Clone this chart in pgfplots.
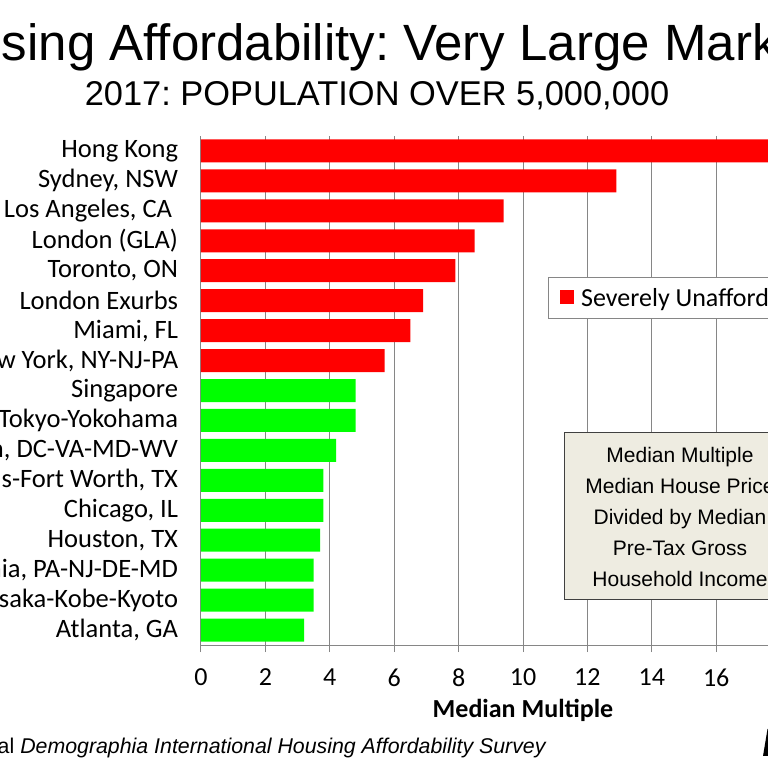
\documentclass[border=0pt]{standalone}
\usepackage{fontspec}
\setmainfont{Carlito}
\newfontfamily\arialf{Liberation Sans}
\usepackage{pgfplots}
\pgfplotsset{compat=1.18}
\definecolor{gridgray}{RGB}{134,134,134}
\definecolor{barred}{RGB}{255,0,0}
\definecolor{bargreen}{RGB}{0,255,0}
\definecolor{notebg}{RGB}{238,236,225}
% pixel helpers: 1px = 0.75pt, y measured from the top edge
\newcommand{\px}[2]{({#1*0.75pt},{(768-#2)*0.75pt})}
\frenchspacing

\begin{document}
\begin{tikzpicture}
\useasboundingbox (0,0) rectangle (576pt,576pt);
\clip (0,0) rectangle (576pt,576pt);

% titles
\node[anchor=base, inner sep=0pt, font=\arialf\fontsize{38.25}{45}\selectfont] at \px{377}{61}
  {Housing Affordability: Very Large Markets};
\node[anchor=base, inner sep=0pt, font=\arialf\fontsize{25.8}{31}\selectfont] at \px{377}{106}
  {2017: POPULATION OVER 5,000,000};

% axis box: left edge at 201px, bottom at 645px
\begin{axis}[
  scale only axis, width=483pt, height=381.75pt,
  at={(150.75pt,92.25pt)}, anchor=south west,
  xbar, bar width=17.25pt,
  xmin=0, xmax=20, ymin=-0.5, ymax=16.5, y dir=reverse,
  xtick={0,2,...,20},
  ytick={0,...,16},
  yticklabels={Hong Kong, {Sydney, NSW}, {Los Angeles, CA\kern4.5pt}, London (GLA), {Toronto, ON},
    London Exurbs, {Miami, FL}, {New York, NY-NJ-PA}, Singapore, Tokyo-Yokohama,
    {Washington, DC-VA-MD-WV}, {Dallas-Fort Worth, TX}, {Chicago, IL}, {Houston, TX},
    {Philadelphia, PA-NJ-DE-MD}, Osaka-Kobe-Kyoto, {Atlanta, GA}},
  axis x line*=bottom, axis y line*=left,
  axis line style={draw=gridgray, line width=0.75pt},
  xmajorgrids, grid style={draw=gridgray, line width=0.75pt},
  tick align=outside,
  xtick style={draw=gridgray, line width=0.75pt},
  x tick style={/pgfplots/major tick length=5.25pt},
  y tick style={/pgfplots/major tick length=0pt},
  /pgf/number format/assume math mode=true,
  xticklabel style={font=\fontsize{19.5}{23}\selectfont, anchor=north, inner sep=0pt, yshift=-13.5pt},
  yticklabel style={font=\fontsize{19.9}{23}\selectfont, anchor=east, inner sep=0pt, xshift=-12.75pt},
  xlabel={Median Multiple},
  xlabel style={at={(axis description cs:0.5,0)}, anchor=base, inner sep=0pt, yshift=-54pt,
    font=\fontsize{19.5}{23}\selectfont\bfseries},
  legend style={at={(0.5388,0.723)}, anchor=north west, draw=gridgray, line width=0.75pt,
    font=\fontsize{19.5}{23}\selectfont, inner xsep=0pt, inner ysep=6pt},
  legend image code/.code={
    \path (0pt,0pt) (22.5pt,0pt);
    \fill[barred] (9pt,-4pt) rectangle (19.5pt,6.5pt);},
]
\addplot[fill=barred, draw=none, bar shift=0pt] coordinates {
  (19.4,0) (12.9,1) (9.4,2) (8.5,3) (7.9,4) (6.9,5) (6.5,6) (5.7,7)};
\addlegendentry{Severely Unaffordable}
\addplot[fill=bargreen, draw=none, bar shift=0pt, forget plot] coordinates {
  (4.8,8) (4.8,9) (4.2,10) (3.8,11) (3.8,12) (3.7,13) (3.5,14) (3.5,15) (3.2,16)};
\end{axis}

% explanatory note
\draw[draw=black!75, fill=notebg, line width=0.75pt] \px{564}{433} rectangle \px{796}{600};
\begin{scope}[every node/.style={anchor=base, inner sep=0pt, font=\arialf\fontsize{15.75}{19}\selectfont}]
\node at \px{680}{463} {Median Multiple};
\node at \px{680}{494} {Median House Price};
\node at \px{680}{525} {Divided by Median};
\node at \px{680}{556} {Pre-Tax Gross};
\node at \px{680}{587} {Household Income};
\end{scope}

% source line
\node[anchor=base west, inner sep=0pt, font=\arialf\fontsize{16}{19}\selectfont] at \px{20}{753}
  {\llap{Source: 14th Annual }\textit{Demographia International Housing Affordability Survey}};

% edge of the logo mark at the lower right
\fill[black] \px{763}{756} -- \px{768}{756} -- \px{768}{729} -- \px{767.5}{729} -- cycle;
\end{tikzpicture}
\end{document}
